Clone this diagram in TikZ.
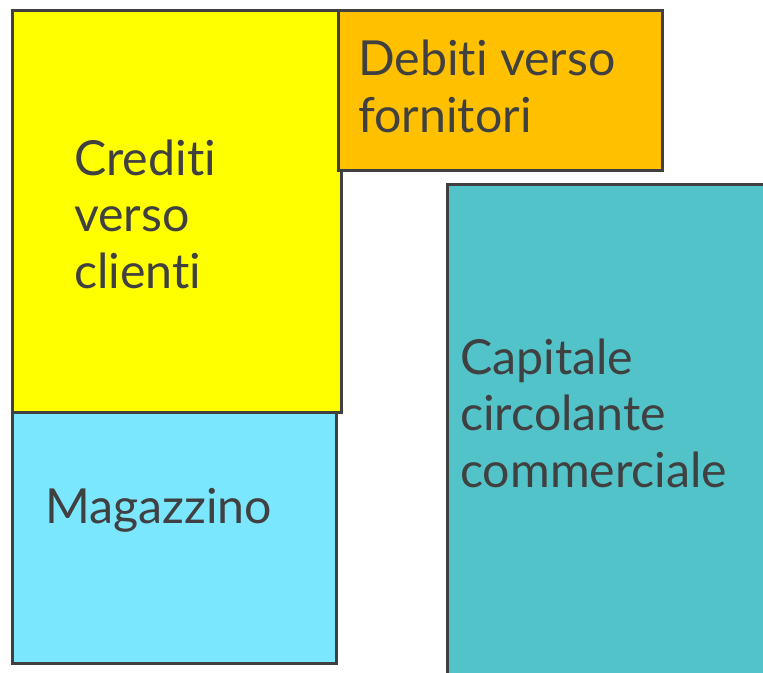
\documentclass[tikz,border=0pt]{standalone}
\usepackage{fontspec}
\setmainfont{Lato}[Ligatures = NoCommon]
\usepackage{tikz}
\usetikzlibrary{positioning}
\definecolor{boxline}{HTML}{404040}
\definecolor{textgray}{HTML}{404040}
\definecolor{credyellow}{HTML}{FFFF00}
\definecolor{debtorange}{HTML}{FFC000}
\definecolor{storeblue}{HTML}{7BE7FF}
\definecolor{capteal}{HTML}{52C3C9}
\tikzstyle{area} = [rectangle, draw = boxline, line width = 3pt, anchor = north
  west, inner sep = 0pt]
\tikzstyle{caption} = [anchor = base west, align = left, inner sep = 0pt,
  text = textgray, font = \fontsize{48.3}{56.5}\selectfont]

\begin{document}
\begin{tikzpicture}[x = 1pt, y = -1pt]
  \useasboundingbox (0, 0) rectangle (763, 672);
  \clip (0, 0) rectangle (763, 672);
  \node (crediti) [area, fill = credyellow, minimum width = 329pt,
    minimum height = 402pt] at (10.5, 8.5) {};
  \node (magazzino) [area, fill = storeblue, minimum width = 324pt,
    minimum height = 251pt] at (10.5, 410.5) {};
  \node (debiti) [area, fill = debtorange, minimum width = 324pt,
    minimum height = 160pt] at (336.5, 8.5) {};
  \node (capitale) [area, fill = capteal, minimum width = 340pt,
    minimum height = 520pt] at (446, 182.5) {};

  % base anchor sits on the last line
  \node (crediti-text) [caption] at (74, 288) {Crediti\\verso\\clienti};
  \node (debiti-text) [caption] at (358, 132) {Debiti verso\\fornitori};
  \node (magazzino-text) [caption] at (45, 523) {Magazzino};
  \node (capitale-text) [caption] at (460, 487)
    {Capitale\\circolante\\commerciale};
\end{tikzpicture}
\end{document}
